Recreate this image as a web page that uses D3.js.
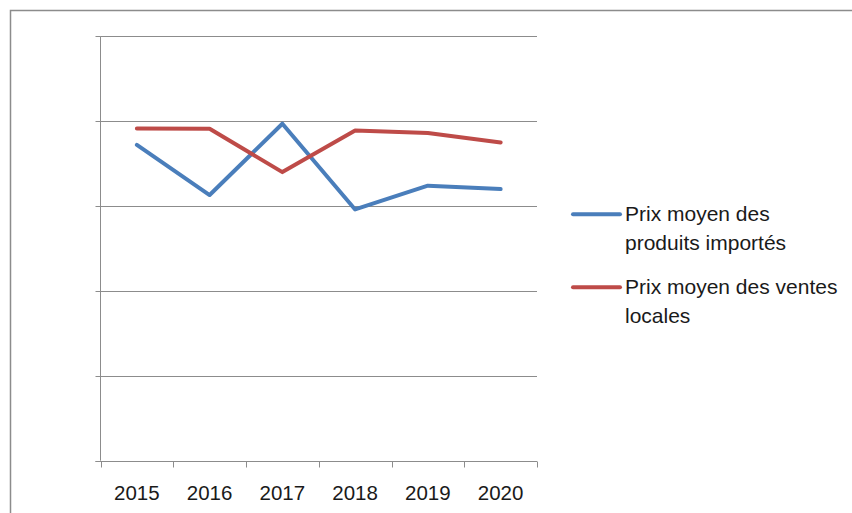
<!DOCTYPE html>
<html>
<head>
<meta charset="utf-8">
<script src="https://cdn.jsdelivr.net/npm/d3@7/dist/d3.min.js"></script>
<style>
  html, body { margin: 0; padding: 0; background: #fff; }
  svg { display: block; }
</style>
</head>
<body>
<svg id="chart" width="852" height="513"></svg>
<script>
const categories = ["2015", "2016", "2017", "2018", "2019", "2020"];
const importes = [3.72, 3.13, 3.97, 2.96, 3.24, 3.20];
const locales = [3.915, 3.91, 3.40, 3.89, 3.86, 3.75];
const yTicks = [0, 1, 2, 3, 4, 5];
const seriesNames = [["Prix moyen des", "produits importés"], ["Prix moyen des ventes", "locales"]];
const colors = ["#4a7ebb", "#be4b48"];

(function () {
const svg = d3.select("#chart");
const font = "'Liberation Sans', Arial, sans-serif";

// outer frame (only top and left visible)
svg.append("rect").attr("x", 10.5).attr("y", 10.5).attr("width", 900).attr("height", 600)
  .attr("fill", "none").attr("stroke", "#8c8c8c").attr("stroke-width", 1.5);

const pLeft = 100.5, pRight = 537, pTop = 36.3, pBottom = 460.7;
const x = d3.scaleBand().domain(categories).range([pLeft, pRight]);
const y = d3.scaleLinear().domain([0, 5]).range([pBottom, pTop]);

// gridlines
svg.append("g").selectAll("line").data(yTicks.filter(d => d > 0)).join("line")
  .attr("x1", pLeft).attr("x2", pRight)
  .attr("y1", d => Math.round(y(d)) + 0.5).attr("y2", d => Math.round(y(d)) + 0.5)
  .attr("stroke", "#8c8c8c").attr("stroke-width", 1);

// y axis with ticks (no labels)
const yAxis = d3.axisLeft(y).tickValues(yTicks).tickSize(5).tickFormat("");
const gy = svg.append("g").attr("transform", `translate(${pLeft},0)`).call(yAxis);
gy.selectAll("line").attr("stroke", "#8c8c8c");
gy.select(".domain").attr("stroke", "#8c8c8c").attr("d", `M0,${pBottom}V${pTop}`);
gy.selectAll(".tick").attr("transform", d => `translate(0,${Math.round(y(d)) + 0.5})`);

// x axis
const gx = svg.append("g").attr("transform", `translate(0,${Math.round(pBottom) + 0.5})`);
gx.append("line").attr("x1", pLeft - 5).attr("x2", pRight).attr("stroke", "#8c8c8c");
const bounds = categories.map(c => x(c)).concat([pRight]);
gx.selectAll("line.tk").data(bounds).join("line").attr("class", "tk")
  .attr("x1", d => Math.round(d) + 0.5).attr("x2", d => Math.round(d) + 0.5)
  .attr("y1", 0).attr("y2", 6).attr("stroke", "#8c8c8c");
gx.selectAll("text").data(categories).join("text")
  .attr("x", d => x(d) + x.bandwidth() / 2).attr("y", 38)
  .attr("text-anchor", "middle").attr("font-family", font).attr("font-size", 20.5)
  .attr("fill", "#1a1a1a").text(d => d);

// lines
const line = d3.line().x((d, i) => x(categories[i]) + x.bandwidth() / 2).y(d => y(d));
[importes, locales].forEach((s, i) => {
  svg.append("path").datum(s).attr("d", line).attr("fill", "none")
    .attr("stroke", colors[i]).attr("stroke-width", 4)
    .attr("stroke-linejoin", "round").attr("stroke-linecap", "round");
});

// legend
const legY = [214.3, 287.3];
seriesNames.forEach((lines, i) => {
  const g = svg.append("g").attr("transform", `translate(0,${legY[i]})`);
  g.append("line").attr("x1", 573).attr("x2", 620).attr("y1", 0).attr("y2", 0)
    .attr("stroke", colors[i]).attr("stroke-width", 4).attr("stroke-linecap", "round");
  lines.forEach((t, j) => {
    g.append("text").attr("x", 625).attr("y", 7 + j * 29)
      .attr("font-family", font).attr("font-size", 21).attr("fill", "#1a1a1a").text(t);
  });
});
})();
</script>
</body>
</html>
